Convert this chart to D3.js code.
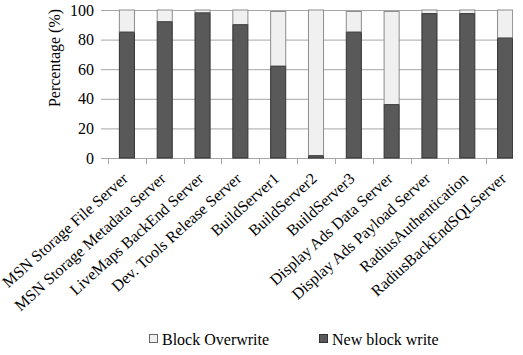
<!DOCTYPE html>
<html>
<head>
<meta charset="utf-8">
<script src="https://cdn.jsdelivr.net/npm/d3@7"></script>
<style>
  html, body { margin: 0; padding: 0; background: #fff; }
  svg { display: block; }
  text { font-family: "Liberation Serif", "Times New Roman", serif; fill: #000; }
</style>
</head>
<body>
<svg id="chart" width="523" height="355"></svg>
<script>
const categories = [
  "MSN Storage File Server",
  "MSN Storage Metadata Server",
  "LiveMaps BackEnd Server",
  "Dev. Tools Release Server",
  "BuildServer1",
  "BuildServer2",
  "BuildServer3",
  "Display Ads Data Server",
  "Display Ads Payload Server",
  "RadiusAuthentication",
  "RadiusBackEndSQLServer"
];
const newBlockWrite = [85, 92, 98, 90, 62, 1.5, 85, 36, 97.5, 97.5, 81];
const blockOverwrite = [15, 8, 2, 10, 37, 98.5, 14, 63, 2.5, 2.5, 19];
const yTicks = [0, 20, 40, 60, 80, 100];
const seriesNames = ["Block Overwrite", "New block write"];

const svg = d3.select("#chart");
const mLeft = 108, mRight = 524, mTop = 10, mBottom = 158;
const clipRight = 513;

svg.append("defs").append("clipPath").attr("id", "clip")
  .append("rect").attr("x", 0).attr("y", 0).attr("width", clipRight).attr("height", 355);

const x = d3.scaleBand().domain(categories).range([mLeft, mRight]).paddingInner(0.575).paddingOuter(0.2875);
const y = d3.scaleLinear().domain([0, 100]).range([mBottom, mTop]);

const g = svg.append("g").attr("clip-path", "url(#clip)");

// gridlines
g.append("g").selectAll("line").data(yTicks.filter(d => d > 0)).join("line")
  .attr("x1", mLeft).attr("x2", mRight)
  .attr("y1", d => y(d) + 0.5).attr("y2", d => y(d) + 0.5)
  .attr("stroke", "#a6a6a6").attr("stroke-width", 1);

// y tick outer marks
svg.append("g").selectAll("line").data(yTicks).join("line")
  .attr("x1", mLeft - 7).attr("x2", mLeft)
  .attr("y1", d => y(d) + 0.5).attr("y2", d => y(d) + 0.5)
  .attr("stroke", "#a6a6a6");

// y tick labels
svg.append("g").selectAll("text").data(yTicks).join("text")
  .attr("x", 94).attr("y", d => y(d))
  .attr("dy", "0.35em")
  .attr("text-anchor", "end")
  .attr("font-size", 16)
  .text(d => d);

// x axis line
g.append("line").attr("x1", mLeft).attr("x2", mRight)
  .attr("y1", mBottom + 0.5).attr("y2", mBottom + 0.5).attr("stroke", "#a6a6a6");

// x tick marks at band boundaries
const bounds = categories.map((c, i) => mLeft + i * x.step());
g.append("g").selectAll("line").data(bounds).join("line")
  .attr("x1", d => Math.round(d) + 0.5).attr("x2", d => Math.round(d) + 0.5)
  .attr("y1", mBottom).attr("y2", mBottom + 6)
  .attr("stroke", "#a6a6a6");

// bars
const bw = x.bandwidth();
const bars = g.append("g");
bars.selectAll("rect.nb").data(categories).join("rect")
  .attr("class", "nb")
  .attr("x", d => x(d) + 0.5).attr("width", bw - 1)
  .attr("y", (d, i) => y(newBlockWrite[i]))
  .attr("height", (d, i) => y(0) - y(newBlockWrite[i]))
  .attr("fill", "#595959").attr("stroke", "#333").attr("stroke-width", 1);
bars.selectAll("rect.bo").data(categories).join("rect")
  .attr("class", "bo")
  .attr("x", d => x(d) + 0.5).attr("width", bw - 1)
  .attr("y", (d, i) => y(newBlockWrite[i] + blockOverwrite[i]))
  .attr("height", (d, i) => y(newBlockWrite[i]) - y(newBlockWrite[i] + blockOverwrite[i]))
  .attr("fill", "#f0f0f0").attr("stroke", "#8c8c8c").attr("stroke-width", 1);
// divider
bars.selectAll("line.div").data(categories).join("line")
  .attr("class", "div")
  .attr("x1", d => x(d) + 0.5).attr("x2", d => x(d) + bw - 0.5)
  .attr("y1", (d, i) => y(newBlockWrite[i])).attr("y2", (d, i) => y(newBlockWrite[i]))
  .attr("stroke", "#333");

// x labels
svg.append("g").selectAll("text").data(categories).join("text")
  .attr("text-anchor", "end")
  .attr("font-size", 16)
  .attr("transform", d => `translate(${x(d) + bw / 2 + 2},${mBottom + 22}) rotate(-42)`)
  .text(d => d);

// y label
svg.append("text")
  .attr("transform", "translate(60,58) rotate(-90)")
  .attr("text-anchor", "middle")
  .attr("font-size", 16)
  .text("Percentage (%)");

// legend
const legendColors = ["#f0f0f0", "#595959"];
const legendStroke = ["#666", "#333"];
const legendX = [149, 319];
const lg = svg.append("g");
seriesNames.forEach((name, i) => {
  lg.append("rect").attr("x", legendX[i] + 0.5).attr("y", 334.5).attr("width", 8).attr("height", 8)
    .attr("fill", legendColors[i]).attr("stroke", legendStroke[i]);
  lg.append("text").attr("x", legendX[i] + 13).attr("y", 345)
    .attr("font-size", 16).text(name);
});
</script>
</body>
</html>
